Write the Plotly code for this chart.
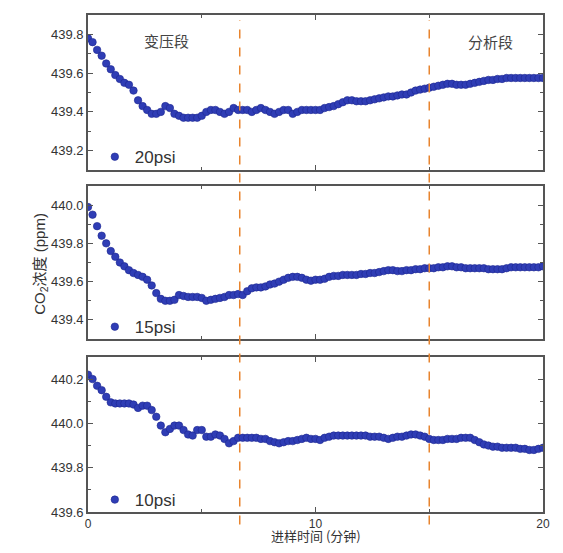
import plotly.graph_objects as go
from plotly.subplots import make_subplots

# time axis (minutes), one reading every 0.2 min
time_min = [round(i * 0.2, 1) for i in range(101)]

co2_20psi = [
    439.78, 439.76, 439.72, 439.69, 439.65, 439.62, 439.59, 439.57, 439.55, 439.54,
    439.51, 439.46, 439.43, 439.41, 439.39, 439.39, 439.40, 439.43, 439.42, 439.39,
    439.38, 439.37, 439.37, 439.37, 439.37, 439.38, 439.40, 439.41, 439.41, 439.40,
    439.39, 439.40, 439.42, 439.41, 439.41, 439.41, 439.40, 439.41, 439.42, 439.41,
    439.40, 439.39, 439.40, 439.41, 439.41, 439.39, 439.40, 439.41, 439.41, 439.41,
    439.41, 439.41, 439.42, 439.425, 439.43, 439.44, 439.45, 439.46, 439.46, 439.455,
    439.455, 439.455, 439.46, 439.465, 439.47, 439.475, 439.48, 439.48, 439.485, 439.49,
    439.49, 439.50, 439.51, 439.515, 439.52, 439.525, 439.53, 439.535, 439.54, 439.545,
    439.545, 439.54, 439.54, 439.54, 439.545, 439.55, 439.555, 439.56, 439.565, 439.565,
    439.57, 439.57, 439.575, 439.575, 439.575, 439.575, 439.575, 439.575, 439.575, 439.575,
    439.575,
]

co2_15psi = [
    439.99, 439.95, 439.89, 439.84, 439.80, 439.76, 439.73, 439.70, 439.68, 439.66,
    439.645, 439.635, 439.625, 439.61, 439.58, 439.54, 439.51, 439.50, 439.50, 439.505,
    439.53, 439.525, 439.52, 439.52, 439.52, 439.515, 439.50, 439.505, 439.51, 439.515,
    439.52, 439.53, 439.53, 439.535, 439.53, 439.55, 439.565, 439.57, 439.57, 439.575,
    439.585, 439.59, 439.60, 439.61, 439.62, 439.625, 439.625, 439.62, 439.61, 439.605,
    439.61, 439.61, 439.615, 439.625, 439.63, 439.63, 439.635, 439.635, 439.635, 439.635,
    439.64, 439.64, 439.645, 439.645, 439.65, 439.655, 439.66, 439.66, 439.655, 439.655,
    439.66, 439.66, 439.665, 439.665, 439.67, 439.67, 439.67, 439.675, 439.675, 439.68,
    439.68, 439.675, 439.675, 439.67, 439.67, 439.67, 439.67, 439.67, 439.665, 439.665,
    439.665, 439.665, 439.67, 439.675, 439.675, 439.675, 439.675, 439.675, 439.675, 439.675,
    439.68,
]

co2_10psi = [
    440.22, 440.20, 440.17, 440.15, 440.12, 440.095, 440.09, 440.09, 440.09, 440.09,
    440.085, 440.07, 440.08, 440.08, 440.06, 440.03, 439.99, 439.96, 439.975, 439.99,
    439.99, 439.97, 439.95, 439.945, 439.97, 439.97, 439.94, 439.94, 439.95, 439.945,
    439.93, 439.91, 439.92, 439.935, 439.935, 439.935, 439.935, 439.935, 439.93, 439.93,
    439.92, 439.915, 439.91, 439.915, 439.92, 439.92, 439.925, 439.93, 439.935, 439.93,
    439.93, 439.925, 439.935, 439.94, 439.945, 439.945, 439.945, 439.945, 439.945, 439.945,
    439.945, 439.945, 439.94, 439.94, 439.94, 439.935, 439.93, 439.935, 439.94, 439.94,
    439.945, 439.95, 439.95, 439.945, 439.94, 439.93, 439.925, 439.925, 439.925, 439.93,
    439.93, 439.93, 439.935, 439.935, 439.935, 439.925, 439.915, 439.905, 439.90, 439.895,
    439.895, 439.89, 439.89, 439.89, 439.89, 439.885, 439.885, 439.88, 439.88, 439.885,
    439.89,
]

series_names = ["20psi", "15psi", "10psi"]
series_values = [co2_20psi, co2_15psi, co2_10psi]
y_ranges = [[439.1, 439.9], [439.3, 440.1], [439.6, 440.3]]
phase_lines = [6.67, 15.0]
phase_labels = ["变压段", "分析段"]
x_title = "进样时间 (分钟)"
y_title = "CO<sub>2</sub>浓度 (ppm)"

fig = make_subplots(rows=3, cols=1, shared_xaxes=False, vertical_spacing=0.03)

domains = [[0.688, 1.0], [0.348, 0.656], [0.0, 0.312]]
legend_ids = ["legend", "legend2", "legend3"]
legend_y = [0.714, 0.372, 0.024]

marker_color = "#2f3db5"
for i, (name, vals) in enumerate(zip(series_names, series_values)):
    fig.add_trace(
        go.Scatter(
            x=time_min, y=vals, mode="markers", name=name,
            marker=dict(size=7.5, color=marker_color, line=dict(color="#1c2690", width=0.6)),
            legend=legend_ids[i], showlegend=True,
        ),
        row=i + 1, col=1,
    )

axis_col = "#555555"
font_fam = "Liberation Sans, Arial, sans-serif"
for i in range(3):
    xa = "xaxis" if i == 0 else f"xaxis{i+1}"
    ya = "yaxis" if i == 0 else f"yaxis{i+1}"
    fig.layout[xa].update(
        range=[0, 20], tickvals=[0, 10, 20], showticklabels=(i == 2),
        ticks="inside", ticklen=5, tickwidth=1.2, tickcolor=axis_col,
        minor=dict(dtick=5, tick0=0, ticks="inside", ticklen=3, tickcolor=axis_col),
        showline=True, linecolor=axis_col, linewidth=1.6, mirror="ticks",
        showgrid=False, zeroline=False, ticklabeloverflow="allow",
        tickfont=dict(family=font_fam, size=12, color="#333"),
    )
    fig.layout[ya].update(
        domain=domains[i], range=y_ranges[i], tick0=439.0, dtick=0.2, tickformat=".1f",
        ticks="inside", ticklen=5, tickwidth=1.2, tickcolor=axis_col,
        minor=dict(dtick=0.1, tick0=439.0, ticks="inside", ticklen=3, tickcolor=axis_col),
        showline=True, linecolor=axis_col, linewidth=1.6, mirror="ticks",
        showgrid=False, zeroline=False,
        tickfont=dict(family=font_fam, size=13, color="#333"),
    )

for i, lid in enumerate(legend_ids):
    fig.layout[lid] = dict(
        x=0.015, y=legend_y[i], xanchor="left", yanchor="middle",
        bgcolor="rgba(0,0,0,0)", borderwidth=0,
        font=dict(family=font_fam, size=17, color="#333"),
        itemsizing="trace",
    )

for xv in phase_lines:
    fig.add_shape(type="line", xref="x", yref="paper", x0=xv, x1=xv, y0=-0.025, y1=0.99,
                  line=dict(color="#e8842e", width=1.5, dash="dash"), layer="above")

fig.add_annotation(x=3.44, y=439.77, xref="x", yref="y", text=phase_labels[0], showarrow=False,
                   font=dict(family="Noto Sans CJK SC", size=15, color="#444"))
fig.add_annotation(x=17.7, y=439.765, xref="x", yref="y", text=phase_labels[1], showarrow=False,
                   font=dict(family="Noto Sans CJK SC", size=15, color="#444"))

fig.add_annotation(x=0.5, y=-0.0465, xref="paper", yref="paper", text=x_title, showarrow=False,
                   xanchor="center", yanchor="middle",
                   font=dict(family="Noto Sans CJK SC", size=13, color="#333"))
fig.add_annotation(x=-0.105, y=0.5, xref="paper", yref="paper", text=y_title, showarrow=False,
                   textangle=-90, xanchor="center", yanchor="middle",
                   font=dict(family="Liberation Sans, Noto Sans CJK SC", size=15, color="#333"))

# page body has an 8px default margin on every side; figure sized so the page is exactly 563x553
fig.update_layout(
    width=547, height=537,
    margin=dict(l=80, r=5, t=7, b=33),
    plot_bgcolor="white", paper_bgcolor="white",
)

fig.write_html("out.html")
